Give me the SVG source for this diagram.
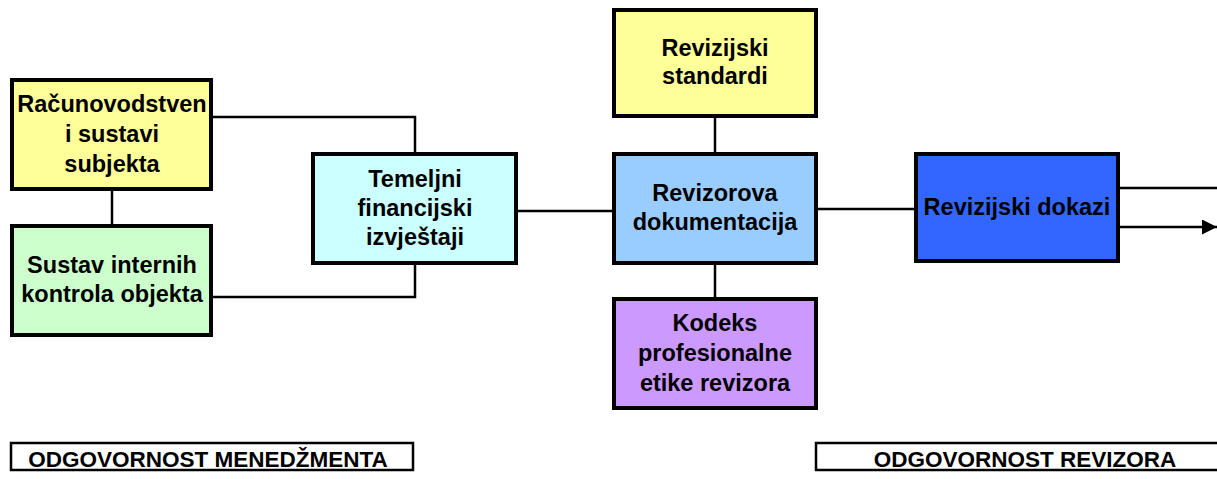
<svg xmlns="http://www.w3.org/2000/svg" width="1217" height="479" viewBox="0 0 1217 479">
<style>
.box{stroke:#000;stroke-width:4}
.lbl{font-family:"Liberation Sans",Arial,sans-serif;font-weight:bold;font-size:23.5px;text-anchor:middle;fill:#000}
.rl{font-family:"Liberation Sans",Arial,sans-serif;font-weight:bold;font-size:22.5px;text-anchor:middle;fill:#000}
.cn{fill:none;stroke:#000;stroke-width:2.5}
.resp{fill:#fff;stroke:#000;stroke-width:2.5}
</style>
<defs>
<marker id="arr" markerWidth="15" markerHeight="15" refX="15" refY="7.5" orient="auto" markerUnits="userSpaceOnUse">
<path d="M0,0 L15,7.5 L0,15 Z" fill="#000"/>
</marker>
</defs>
<g id="connectors">
<polyline class="cn" points="213,117 415,117 415,152"/>
<polyline class="cn" points="213,297 415,297 415,265"/>
<line class="cn" x1="112" y1="191" x2="112" y2="225"/>
<line class="cn" x1="518" y1="211" x2="612" y2="211"/>
<line class="cn" x1="715" y1="118" x2="715" y2="152"/>
<line class="cn" x1="715" y1="265" x2="715" y2="297"/>
<line class="cn" x1="818" y1="209" x2="914" y2="209"/>
<line class="cn" x1="1120" y1="188" x2="1217" y2="188"/>
<line class="cn" x1="1120" y1="227" x2="1217" y2="227" marker-end="url(#arr)"/>
</g>
<g id="racunovodstveni">
<rect class="box" x="12" y="80" width="199" height="109" fill="#FFFF99"/>
<text class="lbl" x="112" y="112">Računovodstven</text>
<text class="lbl" x="112" y="142">i sustavi</text>
<text class="lbl" x="112" y="172">subjekta</text>
</g>
<g id="sustav">
<rect class="box" x="12" y="226" width="199" height="109" fill="#CCFFCC"/>
<text class="lbl" x="112" y="273">Sustav internih</text>
<text class="lbl" x="112" y="302">kontrola objekta</text>
</g>
<g id="temeljni">
<rect class="box" x="313" y="154" width="203" height="109" fill="#CCFFFF"/>
<text class="lbl" x="415" y="187">Temeljni</text>
<text class="lbl" x="415" y="216">financijski</text>
<text class="lbl" x="415" y="245">izvještaji</text>
</g>
<g id="standardi">
<rect class="box" x="614" y="10" width="202" height="106" fill="#FFFF99"/>
<text class="lbl" x="715" y="56">Revizijski</text>
<text class="lbl" x="715" y="84">standardi</text>
</g>
<g id="dokumentacija">
<rect class="box" x="614" y="154" width="202" height="109" fill="#99CCFF"/>
<text class="lbl" x="715" y="201">Revizorova</text>
<text class="lbl" x="715" y="230">dokumentacija</text>
</g>
<g id="kodeks">
<rect class="box" x="614" y="299" width="202" height="109" fill="#CC99FF"/>
<text class="lbl" x="715" y="331">Kodeks</text>
<text class="lbl" x="715" y="361">profesionalne</text>
<text class="lbl" x="715" y="391">etike revizora</text>
</g>
<g id="dokazi">
<rect class="box" x="916" y="154" width="202" height="107" fill="#3366FF"/>
<text class="lbl" x="1017" y="215">Revizijski dokazi</text>
</g>
<g id="odg-menadzmenta">
<rect class="resp" x="11" y="443" width="402" height="27"/>
<text class="rl" x="208" y="467">ODGOVORNOST MENEDŽMENTA</text>
</g>
<g id="odg-revizora">
<rect class="resp" x="816" y="443" width="420" height="27"/>
<text class="rl" x="1025" y="467">ODGOVORNOST REVIZORA</text>
</g>
</svg>
